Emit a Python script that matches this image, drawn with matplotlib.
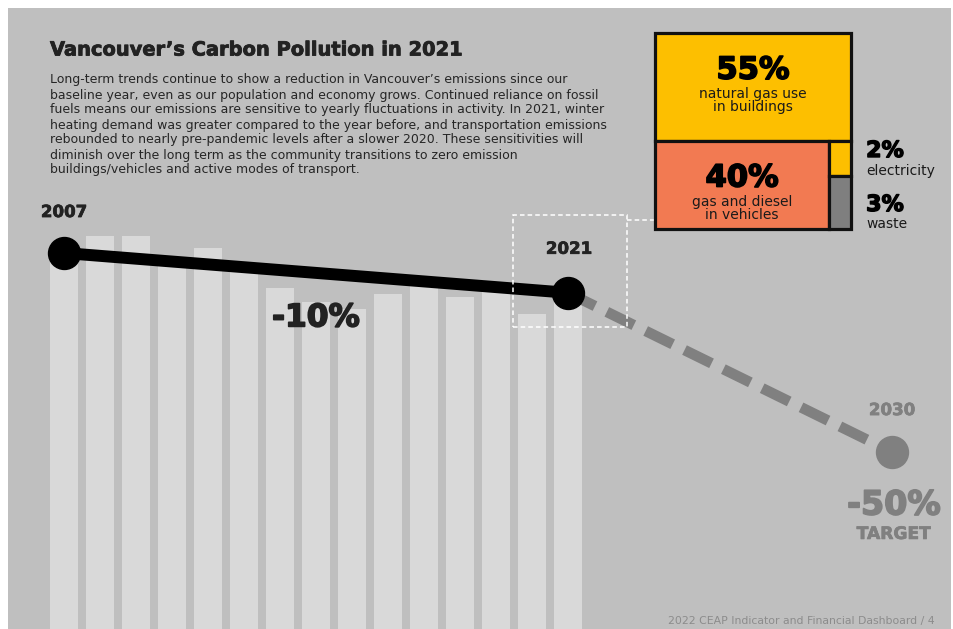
import matplotlib
matplotlib.use('Agg')
import matplotlib.pyplot as plt
import matplotlib.patheffects as pe
from matplotlib.patches import Rectangle
from matplotlib.lines import Line2D

plt.rcParams['font.family'] = ['DejaVu Sans']

# emissions index, 2007 = 100
years = list(range(2007, 2022))
emissions = [100.0, 104.3, 104.3, 97.7, 101.3, 96.7, 91.2, 87.7, 85.9, 89.7, 92.0, 88.9, 90.5, 84.7, 90.0]

trend_years = [2007, 2021]
trend_vals = [100, 90]
target_years = [2021, 2030]
target_vals = [90, 50]

# 2021 emissions by source (%)
shares = [55, 40, 2, 3]
share_labels = ['natural gas use\nin buildings', 'gas and diesel\nin vehicles', 'electricity', 'waste']
share_colors = ['#FDBF00', '#F27A52', '#FDBF00', '#7F7F7F']

title = 'Vancouver\u2019s Carbon Pollution in 2021'
body = [
    'Long-term trends continue to show a reduction in Vancouver\u2019s emissions since our',
    'baseline year, even as our population and economy grows. Continued reliance on fossil',
    'fuels means our emissions are sensitive to yearly fluctuations in activity. In 2021, winter',
    'heating demand was greater compared to the year before, and transportation emissions',
    'rebounded to nearly pre-pandemic levels after a slower 2020. These sensitivities will',
    'diminish over the long term as the community transitions to zero emission',
    'buildings/vehicles and active modes of transport.',
]
footer = '2022 CEAP Indicator and Financial Dashboard / 4'

BG = '#BFBFBF'
BAR = '#D9D9D9'
GREY = '#808080'
INK = '#222222'

W, H = 954, 629
fig = plt.figure(figsize=(W / 100, H / 100), dpi=100)
fig.patch.set_facecolor('white')


def fx(x):
    return x / W


def fy(y):
    return 1 - y / H


def heavy(color, w=0.9):
    # thicken bold glyphs a little
    return [pe.withStroke(linewidth=w, foreground=color)]


# main axes spans the whole figure; one year = 36 px, one index point = 3.98 px
ax = fig.add_axes([0, 0, 1, 1])
ax.set_xlim(2007 - 64 / 36, 2007 + (W - 64) / 36)
ax.set_ylim(22 / 3.98, 651 / 3.98)
ax.axis('off')

ax.add_patch(Rectangle((fx(8), 0), fx(951) - fx(8), fy(8), transform=ax.transAxes,
                       color=BG, zorder=0, lw=0))

ax.bar(years, emissions, width=28 / 36, color=BAR, zorder=1)

# trend to date and path to 2030 target
ax.plot(target_years, target_vals, color=GREY, lw=7.6, linestyle=(0, (2.85, 1.25)),
        dash_capstyle='butt', zorder=2)
ax.plot(trend_years, trend_vals, color='black', lw=8.6, solid_capstyle='butt', zorder=3)
ax.plot(trend_years, trend_vals, 'o', ms=23, color='black', zorder=4)
ax.plot(target_years[1], target_vals[1], 'o', ms=23, color=GREY, zorder=4)

lab = dict(textcoords='offset points', ha='center', va='center', weight='bold')
ax.annotate('2007', (2007, 100), xytext=(0, 29.5), fontsize=12, color=INK,
            path_effects=heavy(INK, 0.5), **lab)
ax.annotate('2021', (2021, 90), xytext=(0.7, 31.7), fontsize=12, color=INK,
            path_effects=heavy(INK, 0.5), **lab)
ax.annotate('2030', (2030, 50), xytext=(0, 30.2), fontsize=12, color=GREY,
            path_effects=heavy(GREY, 0.5), **lab)
ax.annotate('-10%', (2014, 95), xytext=(0, -32.4), fontsize=22.5, color=INK,
            path_effects=heavy(INK, 1.2), **lab)
ax.annotate('-50%', (2030, 50), xytext=(1.4, -38.2), fontsize=24, color=GREY,
            path_effects=heavy(GREY, 1.2), **lab)
ax.annotate('TARGET', (2030, 50), xytext=(1.4, -59), fontsize=12.3, color=GREY,
            path_effects=heavy(GREY, 0.5), **lab)

# dashed callout around 2021 linking to the breakdown
ax.add_patch(Rectangle((fx(513), fy(327)), fx(627) - fx(513), fy(215) - fy(327),
                       transform=ax.transAxes, fill=False, ec='white', lw=1.1,
                       ls=(0, (3, 2)), zorder=5))
ax.add_line(Line2D([fx(627), fx(654)], [fy(220), fy(220)], transform=ax.transAxes,
                   color='white', lw=1.1, ls=(0, (3, 2)), zorder=5))

# heading and paragraph
fig.text(fx(50), fy(50), title, fontsize=14, weight='bold', color=INK, va='center',
         path_effects=heavy(INK, 0.6))
for i, line in enumerate(body):
    fig.text(fx(50), fy(80 + 15 * i), line, fontsize=9.0, color='#262626', va='center')
fig.text(fx(935), fy(621), footer, fontsize=7.8, color='#8C8C8C', ha='right', va='center')

# breakdown of 2021 emissions
tax = fig.add_axes([fx(655), fy(229), fx(851) - fx(655), fy(33) - fy(229)])
tax.set_xlim(0, 1)
tax.set_ylim(0, 1)
tax.axis('off')

top_h = shares[0] / 100
rest = 1 - top_h
main_w = shares[1] / sum(shares[1:])
elec_h = rest * shares[2] / (shares[2] + shares[3])
cells = [
    (0, rest, 1, top_h),
    (0, 0, main_w, rest),
    (main_w, rest - elec_h, 1 - main_w, elec_h),
    (main_w, 0, 1 - main_w, rest - elec_h),
]
for (x0, y0, w, h), c in zip(cells, share_colors):
    tax.add_patch(Rectangle((x0, y0), w, h, fc=c, ec='#111111', lw=2.3, clip_on=False))

for k in (0, 1):
    x0, y0, w, h = cells[k]
    cx = x0 + w / 2
    ytop = y0 + h
    tax.text(cx, ytop - 0.19, f'{shares[k]}%', ha='center', va='center',
             fontsize=22, weight='bold', color='black', path_effects=heavy('black', 1.2))
    tax.text(cx, ytop - 0.345, share_labels[k], ha='center', va='center',
             fontsize=10, color='#1a1a1a', linespacing=0.95)

for k, (yn, yl) in zip((2, 3), ((151, 171), (205, 224))):
    tax.text(1.077, (229 - yn) / 196, f'{shares[k]}%', ha='left', va='center',
             fontsize=16, weight='bold', color='black', path_effects=heavy('black', 1.0))
    tax.text(1.077, (229 - yl) / 196, share_labels[k], ha='left', va='center',
             fontsize=10, color='#1a1a1a')

fig.savefig('out.png', dpi=100, facecolor='white')
